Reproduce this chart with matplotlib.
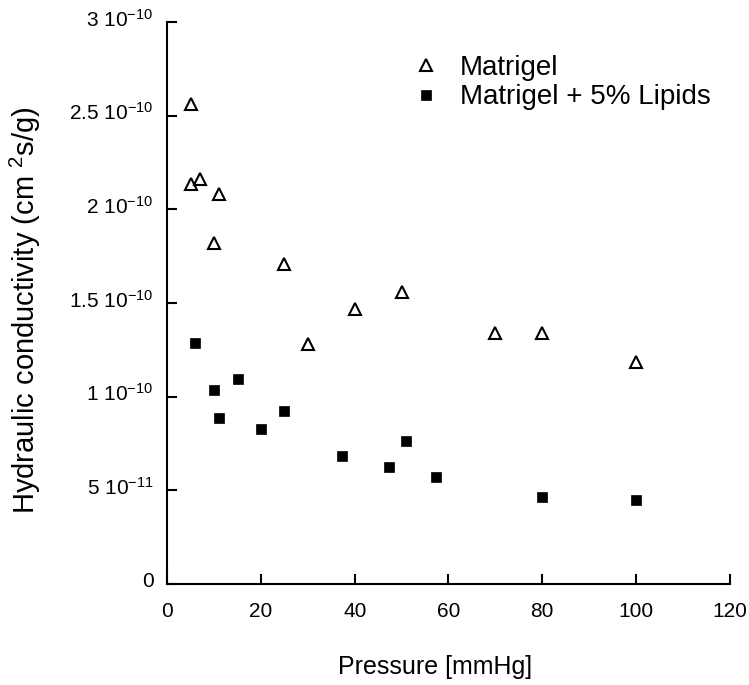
import matplotlib.pyplot as plt
from matplotlib.ticker import FixedLocator, FixedFormatter
from matplotlib.transforms import ScaledTranslation

plt.rcParams["font.family"] = ["Liberation Sans", "DejaVu Sans"]
plt.rcParams["mathtext.fontset"] = "custom"
plt.rcParams["mathtext.rm"] = "Liberation Sans"
plt.rcParams["mathtext.it"] = "Liberation Sans"

# Matrigel (open triangles)
matrigel_p = [5, 5, 7, 11, 10, 25, 30, 40, 50, 70, 80, 100]
matrigel_k = [2.563e-10, 2.136e-10, 2.161e-10, 2.082e-10, 1.819e-10, 1.708e-10,
              1.28e-10, 1.467e-10, 1.557e-10, 1.338e-10, 1.338e-10, 1.187e-10]

# Matrigel + 5% Lipids (filled squares)
lipids_p = [6, 10, 11, 15, 20, 25, 37.3, 47.3, 50.9, 57.4, 80, 100]
lipids_k = [1.285e-10, 1.034e-10, 0.885e-10, 1.093e-10, 0.826e-10, 0.925e-10,
            0.683e-10, 0.625e-10, 0.765e-10, 0.573e-10, 0.466e-10, 0.448e-10]

x_ticks = [0, 20, 40, 60, 80, 100, 120]
y_ticks = [0, 5e-11, 1e-10, 1.5e-10, 2e-10, 2.5e-10, 3e-10]
y_tick_labels = ["0", r"5 10$^{\mathregular{-11}}$", r"1 10$^{\mathregular{-10}}$",
                 r"1.5 10$^{\mathregular{-10}}$", r"2 10$^{\mathregular{-10}}$",
                 r"2.5 10$^{\mathregular{-10}}$", r"3 10$^{\mathregular{-10}}$"]

fig = plt.figure(figsize=(7.49, 6.85), dpi=100)
ax = fig.add_axes([0.2234, 0.1474, 0.7506, 0.8206])

ax.plot(matrigel_p, matrigel_k, linestyle="none", marker="^", markersize=8,
        markerfacecolor="white", markeredgecolor="black", markeredgewidth=1.5,
        label="Matrigel")
ax.plot(lipids_p, lipids_k, linestyle="none", marker="s", markersize=7.5,
        markerfacecolor="black", markeredgecolor="black", markeredgewidth=0.5,
        label="Matrigel + 5% Lipids")

ax.set_xlim(0, 120)
ax.set_ylim(0, 3e-10)
ax.xaxis.set_major_locator(FixedLocator(x_ticks))
ax.yaxis.set_major_locator(FixedLocator(y_ticks))
ax.yaxis.set_major_formatter(FixedFormatter(y_tick_labels))

for side in ["top", "right"]:
    ax.spines[side].set_visible(False)
for side in ["left", "bottom"]:
    ax.spines[side].set_linewidth(1.5)

ax.tick_params(direction="in", length=7, width=1.5, labelsize=15)
ax.tick_params(axis="y", pad=10)
ax.tick_params(axis="x", pad=13)

# y labels sit a little above their ticks in the original
shift = ScaledTranslation(0, 0.045, fig.dpi_scale_trans)
for label in ax.get_yticklabels():
    label.set_transform(label.get_transform() + shift)

ax.set_xlabel("Pressure [mmHg]", fontsize=18, va="top")
ax.xaxis.set_label_coords(0.476, -0.1263)
ax.set_ylabel(r"Hydraulic conductivity (cm $^{\mathregular{2}}$s/g)", fontsize=21)
ax.yaxis.set_label_coords(-0.221, 0.4875)

ax.legend(loc="upper left", bbox_to_anchor=(0.435, 0.941), frameon=False,
          fontsize=20, handlelength=1.0, handletextpad=0.72, labelspacing=0.12,
          borderpad=0, borderaxespad=0)

fig.savefig("out.png", dpi=100)
